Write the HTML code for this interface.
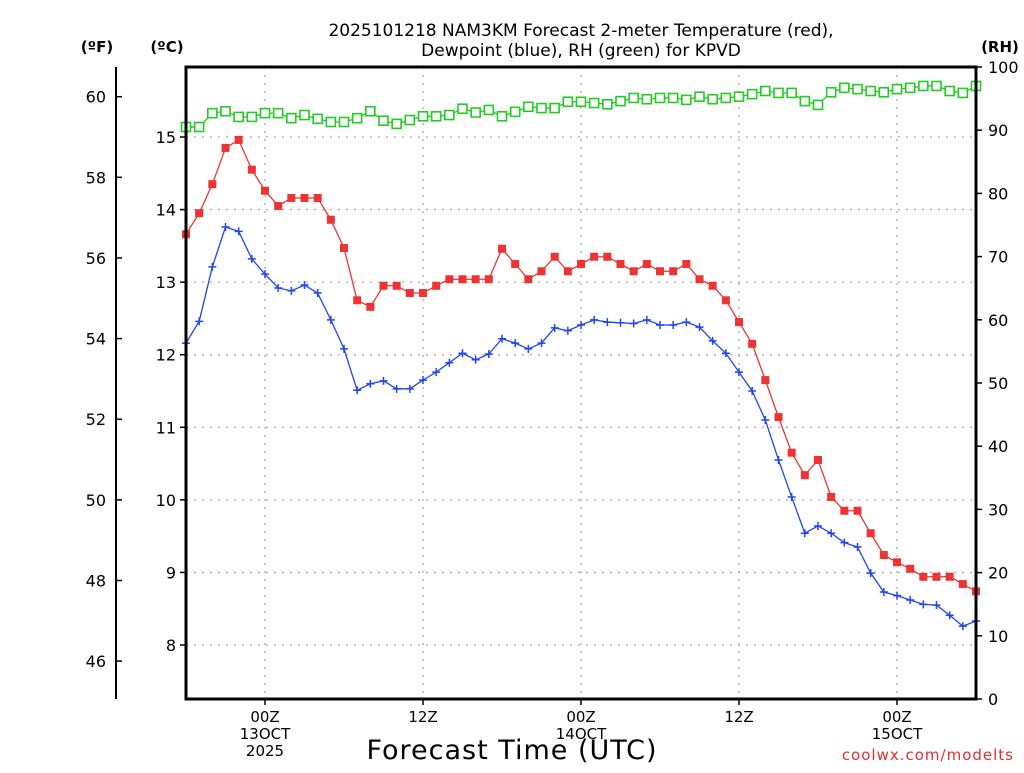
<!DOCTYPE html>
<html><head><meta charset="utf-8"><style>
body{margin:0;background:#fff;}
svg text{font-family:"DejaVu Sans","Liberation Sans",sans-serif;}
</style></head><body>
<svg id="c" width="1024" height="768" xmlns="http://www.w3.org/2000/svg">
<g id="grid"></g>
<g id="series"></g>
<g id="axes"></g>
<text x="581" y="36" text-anchor="middle" font-size="17">2025101218 NAM3KM Forecast 2-meter Temperature (red),</text>
<text x="581" y="56" text-anchor="middle" font-size="17">Dewpoint (blue), RH (green) for KPVD</text>
<text x="97" y="52" text-anchor="middle" font-size="15" font-weight="bold">(ºF)</text>
<text x="167" y="52" text-anchor="middle" font-size="15" font-weight="bold">(ºC)</text>
<text x="1000" y="52" text-anchor="middle" font-size="15" font-weight="bold">(RH)</text>
<text x="512" y="759" text-anchor="middle" font-size="27" letter-spacing="1">Forecast Time (UTC)</text>
<text x="1014" y="760" text-anchor="end" font-size="15" fill="#e03030" letter-spacing="1">coolwx.com/modelts</text>
</svg>
<script>
const temps=[13.66,13.95,14.35,14.85,14.96,14.55,14.26,14.05,14.16,14.16,14.16,13.86,13.47,12.75,12.66,12.95,12.95,12.85,12.85,12.95,13.04,13.04,13.04,13.04,13.46,13.25,13.04,13.15,13.35,13.15,13.25,13.35,13.35,13.25,13.15,13.25,13.15,13.15,13.25,13.04,12.95,12.75,12.45,12.15,11.65,11.14,10.65,10.34,10.55,10.04,9.85,9.85,9.54,9.24,9.14,9.05,8.94,8.94,8.94,8.84,8.74];
const dewpts=[12.16,12.46,13.21,13.76,13.70,13.32,13.11,12.92,12.88,12.96,12.85,12.48,12.08,11.51,11.60,11.64,11.53,11.53,11.65,11.76,11.89,12.02,11.93,12.01,12.22,12.16,12.08,12.16,12.37,12.33,12.41,12.48,12.45,12.44,12.43,12.48,12.41,12.41,12.45,12.38,12.19,12.02,11.76,11.50,11.10,10.55,10.04,9.54,9.64,9.54,9.41,9.35,8.99,8.73,8.68,8.62,8.56,8.55,8.41,8.26,8.33];
const rh=[90.5,90.5,92.7,93.0,92.1,92.1,92.7,92.7,91.9,92.4,91.8,91.3,91.3,91.9,93.0,91.5,91.0,91.6,92.2,92.2,92.4,93.4,92.8,93.2,92.2,92.9,93.7,93.5,93.5,94.5,94.5,94.3,94.1,94.6,95.1,94.9,95.1,95.1,94.8,95.3,94.9,95.1,95.3,95.7,96.2,95.9,95.9,94.6,94.0,96.0,96.7,96.5,96.2,96.0,96.5,96.7,97.0,97.0,96.2,95.9,97.0];
const cTicks=[8,9,10,11,12,13,14,15];
const fTicks=[46,48,50,52,54,56,58,60];
const rhTicks=[0,10,20,30,40,50,60,70,80,90,100];
const xTickHours=[6,18,30,42,54];
const xTickLabels=[["00Z","13OCT","2025"],["12Z"],["00Z","14OCT"],["12Z"],["00Z","15OCT"]];
const L=186,R=976,T=67,B=699,NH=60;
const xS=h=>L+(R-L)*h/NH;
const yC=c=>645-(c-8)*72.57;
const yF=f=>yC((f-32)*5/9);
const yR=r=>B-(B-T)*r/100;
const NS="http://www.w3.org/2000/svg";
function mk(p,t,a){const e=document.createElementNS(NS,t);for(const k in a)e.setAttribute(k,a[k]);p.appendChild(e);return e;}
const grid=document.getElementById('grid'),ser=document.getElementById('series'),ax=document.getElementById('axes');
cTicks.forEach(c=>{const l=mk(grid,'line',{x1:L,x2:R,y1:yC(c),y2:yC(c),stroke:'#aaa','stroke-dasharray':'2,6','stroke-width':1.3});


const t=mk(ax,'text',{x:176,y:yC(c)+6,'text-anchor':'end','font-size':16});t.textContent=c;


mk(ax,'line',{x1:L-6,x2:L,y1:yC(c),y2:yC(c),stroke:'#000','stroke-width':1.5});});
xTickHours.forEach((h,i)=>{const x=xS(h);const l=mk(grid,'line',{x1:x,x2:x,y1:T,y2:B,stroke:'#aaa','stroke-dasharray':'2,6','stroke-width':1.3});


mk(ax,'line',{x1:x,x2:x,y1:B,y2:B+6,stroke:'#000','stroke-width':1.5});
xTickLabels[i].forEach((s,j)=>{const t=mk(ax,'text',{x:x,y:722+j*17,'text-anchor':'middle','font-size':15});t.textContent=s;

});});
fTicks.forEach(f=>{const y=yF(f);mk(ax,'line',{x1:116,x2:122,y1:y,y2:y,stroke:'#000','stroke-width':1.5});
const t=mk(ax,'text',{x:106,y:y+6,'text-anchor':'end','font-size':16});t.textContent=f;

});
mk(ax,'line',{x1:116,x2:116,y1:T,y2:B,stroke:'#000','stroke-width':2});
rhTicks.forEach(r=>{const y=yR(r);mk(ax,'line',{x1:R,x2:R+6,y1:y,y2:y,stroke:'#000','stroke-width':1.5});
const t=mk(ax,'text',{x:988,y:y+6,'font-size':16});t.textContent=r;

});
mk(ax,'rect',{x:L,y:T,width:R-L,height:B-T,fill:'none',stroke:'#000','stroke-width':3});
function line(vals,yf,col,name){const pts=vals.map((v,i)=>xS(i)+','+yf(v)).join(' ');
const p=mk(ser,'polyline',{points:pts,fill:'none',stroke:col,'stroke-width':1.3});

}
line(rh,yR,'#22cc22','rh-line');
line(temps,yC,'#ee3333','temperature-line');
line(dewpts,yC,'#2244ee','dewpoint-line');
rh.forEach((v,i)=>{const m=mk(ser,'rect',{x:xS(i)-4.5,y:yR(v)-4.5,width:9,height:9,fill:'#fff',stroke:'#22cc22','stroke-width':1.6});

});
temps.forEach((v,i)=>{const m=mk(ser,'rect',{x:xS(i)-4,y:yC(v)-4,width:8,height:8,fill:'#ee3333'});

});
dewpts.forEach((v,i)=>{const x=xS(i),y=yC(v);const m=mk(ser,'path',{d:`M${x-4},${y}H${x+4}M${x},${y-4}V${y+4}`,stroke:'#2244ee','stroke-width':1.5});

});
</script>
</body></html>
